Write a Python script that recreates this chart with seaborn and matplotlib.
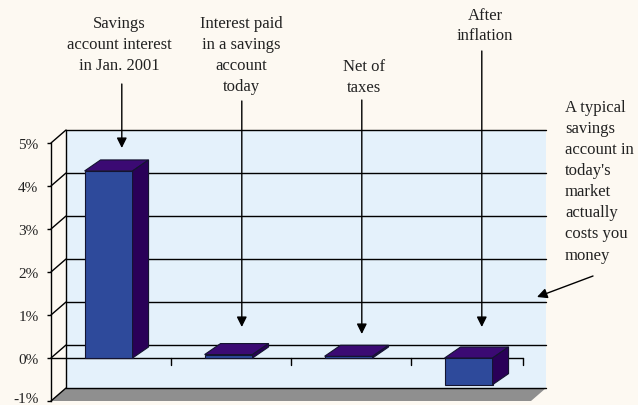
import matplotlib
matplotlib.use("Agg")
import matplotlib.pyplot as plt
import matplotlib.ticker as mticker
import matplotlib.transforms as mtransforms
from matplotlib.patches import Polygon
import seaborn as sns

# data (percent)
categories = ["Jan. 2001", "Today", "Net of taxes", "After inflation"]
values = [4.35, 0.08, 0.04, -0.62]
y_ticks = [-1, 0, 1, 2, 3, 4, 5]

callouts = [
    "Savings\naccount interest\nin Jan. 2001",
    "Interest paid\nin a savings\naccount\ntoday",
    "Net of\ntaxes",
    "After\ninflation",
]
side_note = "A typical\nsavings\naccount in\ntoday's\nmarket\nactually\ncosts you\nmoney"

BG = "#fdf9f2"
WALL = "#e4f1fb"
FLOOR = "#8f8f8f"
FRONT = "#2e4a9b"
TOP = "#3b0a73"
SIDE = "#2a0058"

sns.set_style("white")
plt.rcParams["font.family"] = ["Liberation Serif", "DejaVu Serif"]

W, H = 638, 406
fig = plt.figure(figsize=(W / 100, H / 100), dpi=100, facecolor=BG)


def fx(px):
    return px / W


def fy(py):
    return 1 - py / H


# 3D look: depth offset of the back wall and of the bars (data units)
X0 = -0.48
DX, DY = 0.125, 0.302
BDX, BDY = 0.133, 0.256
ymin, ymax = -1, 5

ax_w = (4 + DX) * 120
ax = fig.add_axes([fx(51), fy(402), ax_w / W, (402 - 131) / H])
ax.set_facecolor("none")

# back wall + floor
ax.add_patch(Polygon([(X0 + DX, ymin + DY), (X0 + 4 + DX, ymin + DY),
                      (X0 + 4 + DX, ymax + DY), (X0 + DX, ymax + DY)],
                     closed=True, facecolor=WALL, edgecolor="none", zorder=0))
ax.add_patch(Polygon([(X0, ymin), (X0 + 4, ymin), (X0 + 4 + DX, ymin + DY),
                      (X0 + DX, ymin + DY)],
                     closed=True, facecolor=FLOOR, edgecolor="none", zorder=1))

# gridlines on back wall and left-wall diagonals
for k in y_ticks:
    ax.plot([X0 + DX, X0 + 4 + DX], [k + DY, k + DY], color="black", lw=1,
            zorder=1, clip_on=False)
    ax.plot([X0, X0 + DX], [k, k + DY], color="black", lw=1, zorder=1,
            clip_on=False)
ax.plot([X0 + DX, X0 + DX], [ymin + DY, ymax + DY], color="black", lw=1,
        zorder=1, clip_on=False)

# front category axis at 0 with tick marks
ax.plot([X0, X0 + 3.93], [0, 0], color="black", lw=1, zorder=2)
for t in [1, 2, 3, 3.93]:
    ax.plot([X0 + t, X0 + t], [0, -0.16], color="black", lw=1, zorder=2)

sns.barplot(x=categories, y=values, width=0.4, color=FRONT, saturation=1,
            edgecolor="#141430", linewidth=0.8, ax=ax, zorder=3)

for p in ax.patches:
    if not hasattr(p, "get_width"):
        continue
    x, w = p.get_x(), p.get_width()
    y0, h = p.get_y(), p.get_height()
    top, bot = max(y0, y0 + h), min(y0, y0 + h)
    ax.add_patch(Polygon([(x, top), (x + w, top), (x + w + BDX, top + BDY),
                          (x + BDX, top + BDY)], closed=True, facecolor=TOP,
                         edgecolor="#141430", lw=0.8, zorder=3))
    ax.add_patch(Polygon([(x + w, bot), (x + w + BDX, bot + BDY),
                          (x + w + BDX, top + BDY), (x + w, top)], closed=True,
                         facecolor=SIDE, edgecolor="#141430", lw=0.8, zorder=3))

ax.set_xlim(X0, X0 + 4 + DX)
ax.set_ylim(ymin, ymax + DY)
ax.set_xticks([])
ax.set_xlabel("")
ax.set_yticks(y_ticks)
ax.yaxis.set_major_formatter(mticker.FuncFormatter(lambda v, _: f"{int(v)}%"))
ax.tick_params(axis="y", left=True, length=3, width=1, pad=6, labelsize=11,
               color="black", labelcolor="#222222")
for s in ["top", "right", "bottom"]:
    ax.spines[s].set_visible(False)
ax.spines["left"].set_bounds(ymin, ymax)
ax.spines["left"].set_linewidth(1)
ax.spines["left"].set_color("black")

# nudge the bottom label up so it stays inside the figure
fig.canvas.draw()
lab = ax.get_yticklabels()[0]
lab.set_transform(lab.get_transform() +
                  mtransforms.ScaledTranslation(0, 4 / 100, fig.dpi_scale_trans))

# callout texts and arrows
text_top = [(119, 16.5), (241, 16.5), (364, 59), (485, 7.5)]
arrow_y = [(85, 149), (102, 328), (101, 335), (52, 328)]
arrow_style = dict(arrowstyle="-|>,head_length=0.6,head_width=0.3",
                   color="black", lw=1, shrinkA=0, shrinkB=0,
                   mutation_scale=10)
for i, (txt, (tx, ty), (a0, a1)) in enumerate(zip(callouts, text_top, arrow_y)):
    fig.text(fx(tx), fy(ty), txt, ha="center", va="top", fontsize=12,
             linespacing=1.4, color="#222222")
    ax.annotate("", xy=(i + 0.11, fy(a1)), xytext=(i + 0.11, fy(a0)),
                xycoords=("data", "figure fraction"),
                textcoords=("data", "figure fraction"),
                arrowprops=arrow_style, annotation_clip=False)

fig.text(fx(565), fy(99.5), side_note, ha="left", va="top", fontsize=12,
         linespacing=1.43, color="#222222")
ax.annotate("", xy=(fx(537), fy(298)), xytext=(fx(593), fy(277)),
            xycoords="figure fraction", textcoords="figure fraction",
            arrowprops=arrow_style)

fig.savefig("out.png", dpi=100, facecolor=BG)
